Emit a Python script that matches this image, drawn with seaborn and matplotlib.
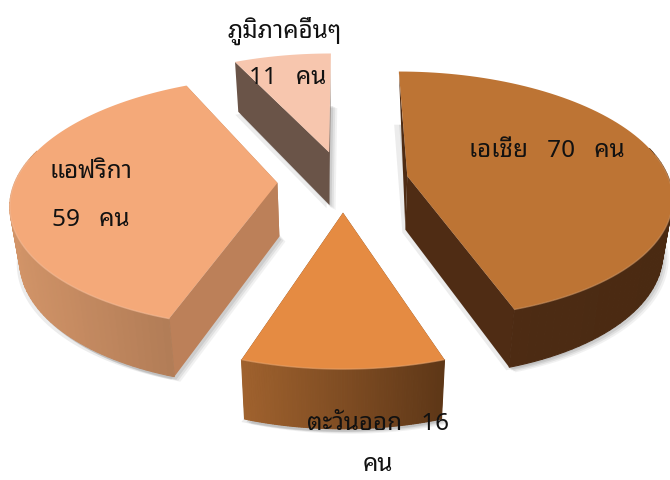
import numpy as np
import seaborn as sns
import matplotlib
matplotlib.use("Agg")
import matplotlib.pyplot as plt

regions = ["เอเชีย", "ตะวันออก", "แอฟริกา", "ภูมิภาคอื่นๆ"]
counts = [70, 16, 59, 11]
unit = "คน"
top_colors = ["#BD7434", "#E58B42", "#F4A979", "#F7C6AE"]
cut_colors = ["#4F2C14", "#6B4020", "#BC8059", "#6A5448"]
arc_left = ["#4F2C14", "#A0622E", "#D29468", "#6A5448"]
arc_right = ["#4A2A12", "#5E3717", "#AF7A55", "#6A5448"]

sns.set_theme(style="white")
plt.rcParams["font.family"] = ["Noto Sans Thai Looped", "DejaVu Sans"]

CX, CY = 343, 182      # pie centre on screen
F, G, D = 1725, 802, 6.58  # perspective
EXPLODE = 0.25


def project(X, V):
    return CX + F * X / (D + V), CY - G * V / (D + V)


def drop(sx, V):
    t = 28 + 169 / (D + V)
    return sx + (CX - sx) * 0.03, t


def hull(pts):
    pts = sorted(set(map(tuple, np.round(pts, 2))))
    def half(seq):
        out = []
        for p in seq:
            while len(out) > 1 and ((out[-1][0] - out[-2][0]) * (p[1] - out[-2][1])
                                    - (out[-1][1] - out[-2][1]) * (p[0] - out[-2][0])) <= 0:
                out.pop()
            out.append(p)
        return out[:-1]
    return np.array(half(pts) + half(pts[::-1]))


fig = plt.figure(figsize=(6.7, 4.81), dpi=100)
ax = fig.add_axes([0, 0, 1, 1])
ax.set_xlim(0, 670)
ax.set_ylim(481, 0)
ax.axis("off")

shares = np.array(counts) / np.sum(counts) * 2 * np.pi
ends = np.cumsum(shares)
starts = ends - shares
order = [3, 0, 2, 1]  # back to front

for i in order:
    a0, a1 = starts[i], ends[i]
    mid = (a0 + a1) / 2
    ox, ov = EXPLODE * np.sin(mid), EXPLODE * np.cos(mid)
    th = np.linspace(a0, a1, 90)
    Xr, Vr = ox + np.sin(th), ov + np.cos(th)
    sx, sy = project(Xr, Vr)
    apx, apy = project(ox, ov)
    bx, t = drop(sx, Vr)
    by = sy + t
    abx, at = drop(apx, ov)
    aby = apy + at

    # the soft shadow comes from the lower outline only
    h = hull(np.vstack([np.c_[bx, by], [[abx, aby]]]))
    for dx, dy, al in [(6, 5, .10), (4, 4, .14), (2, 3, .18), (-3, 3, .14)]:
        ax.fill(h[:, 0] + dx, h[:, 1] + dy, color="#7A7A7A", alpha=al, lw=0, zorder=order.index(i) * 10)
    z = order.index(i) * 10 + 1

    for k in (0, -1):
        if abs(np.sin(th[k])) < 0.05 and np.cos(th[k]) > 0:
            # a cut running straight to the back shows only as a sliver
            ax.fill([apx, sx[k], abx], [apy, sy[k], aby], fc=cut_colors[i], lw=0, zorder=z)
        else:
            ax.fill([apx, sx[k], bx[k], abx], [apy, sy[k], by[k], aby], fc=cut_colors[i], lw=0, zorder=z)
    ramp = sns.blend_palette([arc_left[i], arc_right[i]], 400)
    xmin, xmax = sx.min(), sx.max()
    for k in range(len(th) - 1):
        if np.cos(th[k]) > 0.25:
            continue
        c = ramp[int((sx[k] - xmin) / (xmax - xmin + 1e-6) * 399)]
        ax.fill([sx[k], sx[k + 1], bx[k + 1], bx[k]], [sy[k], sy[k + 1], by[k + 1], by[k]],
                fc=c, ec=c, lw=.8, zorder=z + 1)
    ax.fill(np.r_[apx, sx], np.r_[apy, sy], fc=top_colors[i], lw=0, zorder=z + 2)
    front = np.cos(th) < 0.2
    ax.plot(sx[front], sy[front], color=sns.light_palette(top_colors[i], 5, reverse=True)[1],
            lw=1.0, alpha=.6, zorder=z + 2, solid_capstyle="round")

txt = dict(ha="center", va="center", fontsize=17.5, color="#111111", zorder=100)
ax.text(547, 151, f"{regions[0]}   {counts[0]}   {unit}", **txt)
ax.text(378, 424, f"{regions[1]}   {counts[1]}", **txt)
ax.text(378, 465, unit, **txt)
ax.text(91, 172, regions[2], **txt)
ax.text(91, 220, f"{counts[2]}   {unit}", **txt)
ax.text(285, 31, regions[3], **txt)
ax.text(288, 78, f"{counts[3]}   {unit}", **txt)

fig.savefig("out.png", dpi=100)
